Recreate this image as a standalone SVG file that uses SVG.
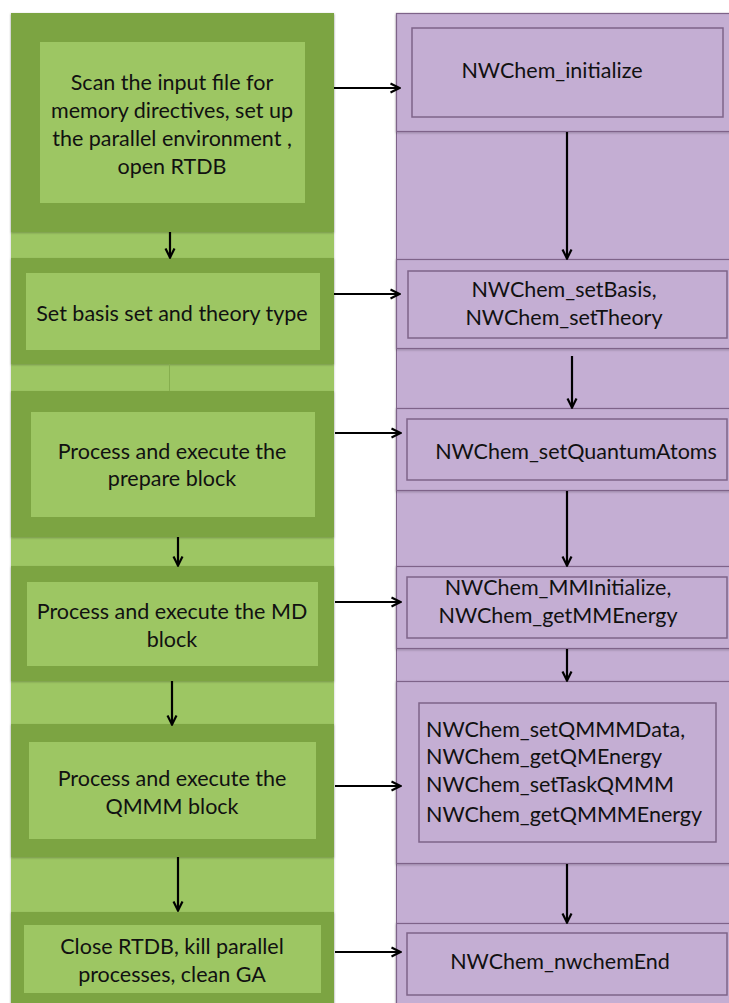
<svg xmlns="http://www.w3.org/2000/svg" width="729" height="1003" viewBox="0 0 729 1003">
<style>
.bgG{fill:#9DC663}
.bgP{fill:#C4AED3;stroke:#7E6489;stroke-width:1}
.oG{fill:#7CA442}
.iG{fill:#9DC663}
.oP{fill:#C4AED3;stroke:#7E6489;stroke-width:1.2}
.iP{fill:#C4AED3;stroke:#7E6489;stroke-width:1.5}
text{font-family:Lato,"Open Sans","Liberation Sans",sans-serif;font-size:21.5px;fill:#111}
.c{text-anchor:middle}
.con{stroke:#000;stroke-width:2.2;fill:none}
.faint{stroke:#86AE4E;stroke-width:1;fill:none}
</style>
<defs>
<marker id="ah" viewBox="0 0 12 12" refX="11" refY="6" markerWidth="12" markerHeight="12" markerUnits="userSpaceOnUse" orient="auto">
<path d="M1.5,1.5 L10.5,6 L1.5,10.5" fill="none" stroke="#000" stroke-width="2.2"/>
</marker>
<filter id="sh" x="-5%" y="-5%" width="110%" height="110%">
<feDropShadow dx="0" dy="1" stdDeviation="1" flood-color="#000" flood-opacity="0.25"/>
</filter>
</defs>
<rect x="0" y="0" width="729" height="1003" fill="#fff"/>
<rect class="bgG" x="11" y="13" width="323" height="995" filter="url(#sh)"/>
<rect class="bgP" x="396.5" y="13.5" width="340" height="995" filter="url(#sh)"/>

<g id="L1"><rect class="oG" x="11" y="13" width="323" height="219" filter="url(#sh)"/><rect class="iG" x="40" y="42" width="265" height="161"/>
<text class="c" x="172" y="90">Scan the input file for</text><text class="c" x="172" y="118">memory directives, set up</text><text class="c" x="172" y="146">the parallel environment ,</text><text class="c" x="172" y="174">open RTDB</text></g>
<g id="L2"><rect class="oG" x="11" y="258" width="323" height="106" filter="url(#sh)"/><rect class="iG" x="26" y="273" width="294" height="77"/>
<text class="c" x="172" y="321">Set basis set and theory type</text></g>
<g id="L3"><rect class="oG" x="11" y="391" width="323" height="146" filter="url(#sh)"/><rect class="iG" x="31" y="412" width="284" height="105"/>
<text class="c" x="172" y="459">Process and execute the</text><text class="c" x="172" y="486">prepare block</text></g>
<g id="L4"><rect class="oG" x="11" y="566" width="323" height="115" filter="url(#sh)"/><rect class="iG" x="27" y="582" width="291" height="84"/>
<text class="c" x="172" y="619">Process and execute the MD</text><text class="c" x="172" y="647">block</text></g>
<g id="L5"><rect class="oG" x="11" y="724" width="323" height="133" filter="url(#sh)"/><rect class="iG" x="29" y="742" width="287" height="97"/>
<text class="c" x="172" y="786">Process and execute the</text><text class="c" x="172" y="814">QMMM block</text></g>
<g id="L6"><rect class="oG" x="11" y="912" width="323" height="100" filter="url(#sh)"/><rect class="iG" x="24" y="925" width="297" height="68"/>
<text class="c" x="172" y="954">Close RTDB, kill parallel</text><text class="c" x="172" y="982">processes, clean GA</text></g>

<g id="R1"><rect class="oP" x="396.5" y="13.5" width="340" height="118" filter="url(#sh)"/><rect class="iP" x="412" y="28" width="311" height="89"/>
<text class="c" x="552" y="78">NWChem_initialize</text></g>
<g id="R2"><rect class="oP" x="396.5" y="259.5" width="340" height="89" filter="url(#sh)"/><rect class="iP" x="408" y="271" width="319" height="67"/>
<text class="c" x="564" y="297">NWChem_setBasis,</text><text class="c" x="564" y="325">NWChem_setTheory</text></g>
<g id="R3"><rect class="oP" x="396.5" y="408.5" width="340" height="82" filter="url(#sh)"/><rect class="iP" x="407" y="419" width="320" height="61"/>
<text class="c" x="576" y="459">NWChem_setQuantumAtoms</text></g>
<g id="R4"><rect class="oP" x="396.5" y="566.5" width="340" height="82" filter="url(#sh)"/><rect class="iP" x="407" y="577" width="320" height="61"/>
<text class="c" x="558" y="595">NWChem_MMInitialize,</text><text class="c" x="558" y="623">NWChem_getMMEnergy</text></g>
<g id="R5"><rect class="oP" x="396.5" y="681.5" width="340" height="182" filter="url(#sh)"/><rect class="iP" x="419" y="703" width="297" height="139"/>
<text x="426" y="737">NWChem_setQMMMData,</text><text x="426" y="764">NWChem_getQMEnergy</text><text x="426" y="792">NWChem_setTaskQMMM</text><text x="426" y="822">NWChem_getQMMMEnergy</text></g>
<g id="R6"><rect class="oP" x="396.5" y="923.5" width="340" height="90" filter="url(#sh)"/><rect class="iP" x="407" y="933" width="320" height="62"/>
<text class="c" x="560" y="969">NWChem_nwchemEnd</text></g>

<g id="connectors">
<line class="con" x1="334" y1="88" x2="400" y2="88" marker-end="url(#ah)"/>
<line class="con" x1="334" y1="294" x2="400" y2="294" marker-end="url(#ah)"/>
<line class="con" x1="335" y1="433" x2="401" y2="433" marker-end="url(#ah)"/>
<line class="con" x1="335" y1="602" x2="401" y2="602" marker-end="url(#ah)"/>
<line class="con" x1="335" y1="786" x2="401" y2="786" marker-end="url(#ah)"/>
<line class="con" x1="335" y1="952" x2="401" y2="952" marker-end="url(#ah)"/>
<line class="con" x1="170" y1="232" x2="170" y2="258" marker-end="url(#ah)"/>
<line class="faint" x1="169.5" y1="364" x2="169.5" y2="391"/>
<line class="con" x1="178" y1="537" x2="178" y2="566" marker-end="url(#ah)"/>
<line class="con" x1="172" y1="681" x2="172" y2="725" marker-end="url(#ah)"/>
<line class="con" x1="178" y1="857" x2="178" y2="911" marker-end="url(#ah)"/>
<line class="con" x1="567" y1="132" x2="567" y2="259" marker-end="url(#ah)"/>
<line class="con" x1="572" y1="356" x2="572" y2="408" marker-end="url(#ah)"/>
<line class="con" x1="567" y1="491" x2="567" y2="566" marker-end="url(#ah)"/>
<line class="con" x1="567" y1="649" x2="567" y2="681" marker-end="url(#ah)"/>
<line class="con" x1="567" y1="864" x2="567" y2="923" marker-end="url(#ah)"/>
</g>
</svg>
